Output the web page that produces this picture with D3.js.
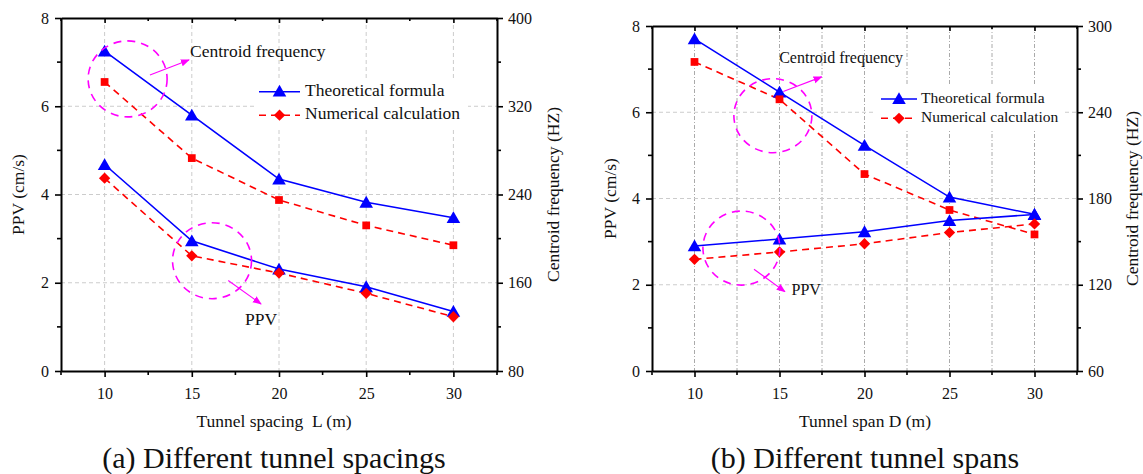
<!DOCTYPE html>
<html><head><meta charset="utf-8">
<script src="https://cdn.jsdelivr.net/npm/d3@7"></script>
<style>body{margin:0;background:#fff}svg{display:block}svg text{font-family:"Times New Roman","Liberation Serif","DejaVu Serif",serif !important;fill:#111}</style>
</head><body><svg id="c" width="1143" height="474"></svg>
<script>
// ---- data ----
const xValues = [10, 15, 20, 25, 30];
const xTicks = [10, 15, 20, 25, 30];
const leftTicks = [0, 2, 4, 6, 8];
const aRightTicks = [80, 160, 240, 320, 400];
const bRightTicks = [60, 120, 180, 240, 300];
const seriesNames = ["Theoretical formula", "Numerical calculation"];

const aTheoPPV  = [4.68, 2.95, 2.31, 1.91, 1.35];
const aNumPPV   = [4.37, 2.61, 2.22, 1.76, 1.23];
const aTheoFreq = [370, 312, 254, 233, 219];
const aNumFreq  = [342, 273, 235, 212, 194];

const bTheoPPV  = [2.90, 3.06, 3.23, 3.49, 3.63];
const bNumPPV   = [2.59, 2.76, 2.95, 3.21, 3.41];
const bTheoFreq = [291, 254, 217, 181, 169];
const bNumFreq  = [275, 249, 197, 172, 155];

const svg = d3.select("#c");
const BLUE = "#0000ff", RED = "#ff0000", MAG = "#ff00ff";
const FONT = '"Times New Roman","Liberation Serif","DejaVu Serif",serif';

svg.append("defs").append("marker").attr("id","arr").attr("viewBox","0 0 10 10")
  .attr("refX",9).attr("refY",5).attr("markerWidth",9).attr("markerHeight",9)
  .attr("markerUnits","userSpaceOnUse").attr("orient","auto")
  .append("path").attr("d","M0,1 L10,5 L0,9 Z").attr("fill",MAG);

function panel(cfg) {
  const g = svg.append("g").attr("font-family", FONT);
  const x = d3.scaleLinear([7.5, 32.5], [cfg.x0, cfg.x1]);
  const yL = d3.scaleLinear([0, 8], [cfg.y1, cfg.y0]);
  const yR = d3.scaleLinear(d3.extent(cfg.rTicks), [cfg.y1, cfg.y0]);
  const minorX = d3.range(7.5, 32.6, 2.5);

  // grid
  const grid = g.append("g");
  const vx = cfg.gridMinor ? minorX.filter(v => v > 7.5 && v < 32.5) : xTicks;
  grid.selectAll("line.v").data(vx).join("line")
    .attr("x1", d => x(d)).attr("x2", d => x(d)).attr("y1", cfg.y0).attr("y2", cfg.y1)
    .attr("stroke", cfg.gridMinor ? "#aaa" : "#ccc").attr("stroke-width", 1)
    .attr("stroke-dasharray", cfg.gridMinor ? "4,2,1,2" : "4,3");
  grid.selectAll("line.h").data([2, 4, 6]).join("line")
    .attr("x1", cfg.x0).attr("x2", cfg.x1).attr("y1", d => yL(d)).attr("y2", d => yL(d))
    .attr("stroke", "#ccc").attr("stroke-width", 1).attr("stroke-dasharray", "4,3");

  // legend background
  const L = cfg.legend;
  g.append("rect").attr("x", L.bx).attr("y", L.by).attr("width", L.bw).attr("height", L.bh).attr("fill", "#fff");

  const line = (ys, sc) => d3.line().x((d, i) => x(xValues[i])).y(d => sc(d))(ys);
  const tri = d3.symbol().type(d3.symbolTriangle).size(80);
  const dia = d3.symbol().type(d3.symbolSquare).size(64);
  const sq = d3.symbol().type(d3.symbolSquare).size(60);

  const series = [
    {v: cfg.theoFreq, sc: yR, c: BLUE, dash: null, sym: tri, rot: 0},
    {v: cfg.numFreq, sc: yR, c: RED, dash: "7,5", sym: sq, rot: 0},
    {v: cfg.theoPPV, sc: yL, c: BLUE, dash: null, sym: tri, rot: 0},
    {v: cfg.numPPV, sc: yL, c: RED, dash: "7,5", sym: dia, rot: 45},
  ];
  series.forEach(s => {
    g.append("path").attr("d", line(s.v, s.sc)).attr("fill", "none")
      .attr("stroke", s.c).attr("stroke-width", 1.6).attr("stroke-dasharray", s.dash);
  });
  series.forEach(s => {
    g.selectAll(null).data(s.v).join("path")
      .attr("transform", (d, i) => `translate(${x(xValues[i])},${s.sc(d) + (s.sym === tri ? 1.5 : 0)}) rotate(${s.rot})`)
      .attr("d", s.sym).attr("fill", s.c);
  });

  // annotations
  cfg.notes.forEach(n => {
    g.append("ellipse").attr("cx", x(n.cx)).attr("cy", yL(n.cy)).attr("rx", n.rx).attr("ry", n.ry)
      .attr("fill", "none").attr("stroke", MAG).attr("stroke-width", 1.6).attr("stroke-dasharray", "8,6");
    g.append("line").attr("x1", x(n.ax1)).attr("y1", yL(n.ay1)).attr("x2", x(n.ax2)).attr("y2", yL(n.ay2))
      .attr("stroke", MAG).attr("stroke-width", 1.1).attr("marker-end", "url(#arr)");
    g.append("text").attr("x", x(n.tx)).attr("y", yL(n.ty)).attr("dominant-baseline", "middle")
      .attr("font-size", cfg.noteFont).text(n.text);
  });

  // legend
  [[BLUE, null, tri, 0], [RED, "7,5", dia, 45]].forEach((d, i) => {
    const yy = L.y + i * L.dy;
    g.append("line").attr("x1", L.lx1).attr("x2", L.lx2).attr("y1", yy).attr("y2", yy)
      .attr("stroke", d[0]).attr("stroke-width", 1.6).attr("stroke-dasharray", d[1]);
    g.append("path").attr("transform", `translate(${(L.lx1 + L.lx2) / 2},${yy + (i === 0 ? 1 : 0)}) rotate(${d[3]})`)
      .attr("d", d[2]).attr("fill", d[0]);
    g.append("text").attr("x", L.tx).attr("y", yy).attr("dominant-baseline", "middle")
      .attr("font-size", cfg.legendFont).text(seriesNames[i]);
  });

  // axes
  const ax = g.append("g");
  const minorL = d3.range(1, 8, 2);
  const minorR = cfg.rTicks.slice(0, -1).map((v, i) => (v + cfg.rTicks[i + 1]) / 2);
  const minorXs = minorX.filter(v => !xTicks.includes(v));
  function style(sel) {
    sel.attr("font-family", FONT).attr("font-size", 16);
    sel.select(".domain").attr("stroke", "#000").attr("stroke-width", 2);
    sel.selectAll(".tick line").attr("stroke", "#000").attr("stroke-width", 1.6);
    sel.selectAll(".tick text").attr("fill", "#111");
  }
  const bottom = ax.append("g").attr("transform", `translate(0,${cfg.y1})`)
    .call(d3.axisBottom(x).tickValues(xTicks).tickSize(6).tickPadding(11).tickSizeOuter(0));
  bottom.selectAll(null).data(minorXs).join("line").attr("x1", d => x(d)).attr("x2", d => x(d))
    .attr("y1", 0).attr("y2", 4).attr("stroke", "#000").attr("stroke-width", 1.6);
  style(bottom);
  const top = ax.append("g").attr("transform", `translate(0,${cfg.y0})`)
    .call(d3.axisTop(x).tickValues(xTicks).tickSize(-5).tickFormat("").tickSizeOuter(0));
  top.selectAll(null).data(minorXs).join("line").attr("x1", d => x(d)).attr("x2", d => x(d))
    .attr("y1", 0).attr("y2", 3).attr("stroke", "#000").attr("stroke-width", 1.6);
  style(top);
  const left = ax.append("g").attr("transform", `translate(${cfg.x0},0)`)
    .call(d3.axisLeft(yL).tickValues(leftTicks).tickSize(6).tickPadding(6).tickSizeOuter(0));
  left.selectAll(null).data(minorL).join("line").attr("y1", d => yL(d)).attr("y2", d => yL(d))
    .attr("x1", 0).attr("x2", -4).attr("stroke", "#000").attr("stroke-width", 1.6);
  style(left);
  const right = ax.append("g").attr("transform", `translate(${cfg.x1},0)`)
    .call(d3.axisRight(yR).tickValues(cfg.rTicks).tickSize(6).tickPadding(5).tickSizeOuter(0));
  right.selectAll(null).data(minorR).join("line").attr("y1", d => yR(d)).attr("y2", d => yR(d))
    .attr("x1", 0).attr("x2", 4).attr("stroke", "#000").attr("stroke-width", 1.6);
  style(right);

  // labels
  const cy = (cfg.y0 + cfg.y1) / 2;
  g.append("text").attr("transform", `translate(${cfg.lLabX},${cy}) rotate(-90)`).attr("text-anchor", "middle")
    .attr("dominant-baseline", "middle").attr("font-size", 17.5).text("PPV (cm/s)");
  g.append("text").attr("transform", `translate(${cfg.rLabX},${cy}) rotate(-90)`).attr("text-anchor", "middle")
    .attr("dominant-baseline", "middle").attr("font-size", 17.5).text("Centroid frequency (HZ)");
  g.append("text").attr("x", cfg.capX).attr("y", 427).attr("text-anchor", "middle")
    .attr("font-size", 17.5).attr("xml:space", "preserve").text(cfg.xLabel);
  g.append("text").attr("x", cfg.capX).attr("y", 468).attr("text-anchor", "middle")
    .attr("font-size", 30).text(cfg.caption);
}

panel({
  x0: 61, x1: 497, y0: 18, y1: 371, rTicks: aRightTicks, gridMinor: false,
  theoPPV: aTheoPPV, numPPV: aNumPPV, theoFreq: aTheoFreq, numFreq: aNumFreq,
  legendFont: 17.5, noteFont: 17.5,
  legend: {bx: 257, by: 78, bw: 211, bh: 50, y: 91.7, dy: 23.5, lx1: 259, lx2: 300, tx: 305},
  notes: [
    {cx: 11.32, cy: 6.62, rx: 39.5, ry: 38, ax1: 12.6, ay1: 6.71, ax2: 14.84, ay2: 7.05, tx: 14.9, ty: 7.21, text: "Centroid frequency"},
    {cx: 16.16, cy: 2.50, rx: 39.5, ry: 38, ax1: 17.09, ay1: 2.05, ax2: 18.97, ay2: 1.52, tx: 18.05, ty: 1.14, text: "PPV"}
  ],
  lLabX: 20, rLabX: 555, capX: 274,
  xLabel: "Tunnel spacing  L (m)", caption: "(a) Different tunnel spacings"
});
panel({
  x0: 652, x1: 1077, y0: 26, y1: 371, rTicks: bRightTicks, gridMinor: true,
  theoPPV: bTheoPPV, numPPV: bNumPPV, theoFreq: bTheoFreq, numFreq: bNumFreq,
  legendFont: 15.5, noteFont: 16,
  legend: {bx: 873, by: 86, bw: 192, bh: 45, y: 99, dy: 19.3, lx1: 881, lx2: 917, tx: 921},
  notes: [
    {cx: 14.61, cy: 5.92, rx: 39, ry: 37, ax1: 15.22, ay1: 6.48, ax2: 17.48, ay2: 6.82, tx: 14.98, ty: 7.23, text: "Centroid frequency"},
    {cx: 12.76, cy: 2.85, rx: 38.5, ry: 37, ax1: 13.5, ay1: 2.36, ax2: 15.32, ay2: 1.84, tx: 15.71, ty: 1.84, text: "PPV"}
  ],
  lLabX: 612, rLabX: 1134, capX: 865,
  xLabel: "Tunnel span D (m)", caption: "(b) Different tunnel spans"
});
</script></body></html>
